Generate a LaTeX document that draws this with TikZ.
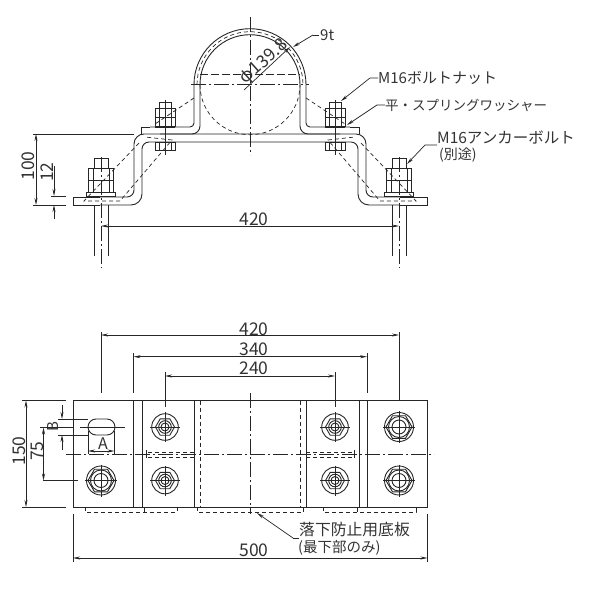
\documentclass[tikz,border=0pt]{standalone}
\usepackage{fontspec}
\setmainfont{Noto Sans CJK JP}
\usetikzlibrary{arrows.meta}
\tikzset{
  part/.style={line width=0.9pt,draw=black!85},
  thin line/.style={line width=0.7pt,draw=black!85},
  hidden/.style={line width=0.7pt,draw=black!85,dash pattern=on 4pt off 3pt},
  centre/.style={line width=0.7pt,draw=black!85,dash pattern=on 15pt off 3pt on 2pt off 3pt},
  dimline/.style={line width=0.7pt,draw=black!85,{Stealth[length=7pt,width=3pt]}-{Stealth[length=7pt,width=3pt]}},
  leader/.style={line width=0.7pt,draw=black!85,-{Stealth[length=7pt,width=3pt]}},
  num/.style={font=\fontsize{17.5}{18}\selectfont,text=black!80,inner sep=0pt},
  jp/.style={font=\fontsize{15}{16}\selectfont,text=black!80,inner sep=0pt,anchor=west},
  anchorbolt/.pic={
    \draw[part] (-12.5,-4) rectangle (12.5,-16);
    \draw[part] (-12.5,-16) rectangle (12.5,-28);
    \draw[part] (-7,-28) rectangle (7,-38);
    \draw[thin line] (-8,-4) -- (-8,-28) (8,-4) -- (8,-28);
    \draw[part] (-14.5,0) rectangle (14.5,-4);
    \draw[part] (-7,9) -- (-7,60) (7,9) -- (7,60);
  },
  clampbolt/.pic={
    \draw[part] (-10,-1) rectangle (10,-10);
    \draw[part] (-10,-10) rectangle (10,-19);
    \draw[part] (-6,-19) rectangle (6,-25);
    \draw[thin line] (-6,-1) -- (-6,-19) (6,-1) -- (6,-19);
    \draw[line width=1.6pt,draw=black!85] (-10,0) -- (10,0);
    \draw[part] (-10,15) rectangle (10,23);
    \draw[thin line] (-6,15) -- (-6,23) (6,15) -- (6,23);
  },
  bigbolt/.pic={
    \draw[thin line] (-16,0) -- (16,0) (0,-16) -- (0,16);
    \draw[part] (0,0) circle (14.5);
    \draw[part] (13,0) -- (6.5,11.3) -- (-6.5,11.3) -- (-13,0) -- (-6.5,-11.3) -- (6.5,-11.3) -- cycle;
    \draw[part] (0,0) circle (10.5);
    \draw[part] (0,0) circle (7);
  },
  smallbolt/.pic={
    \draw[thin line] (-15,0) -- (15,0) (0,-15) -- (0,15);
    \draw[part] (0,0) circle (13.3);
    \draw[part] (9.5,0) -- (4.8,8.2) -- (-4.8,8.2) -- (-9.5,0) -- (-4.8,-8.2) -- (4.8,-8.2) -- cycle;
    \draw[part] (0,0) circle (6.3);
    \draw[part] (0,0) circle (4);
  }
}
\begin{document}
\begin{tikzpicture}[x=1pt,y=-1pt]
\useasboundingbox (0,0) rectangle (604,588);
% ---------- elevation: saddle
\draw[part] (194,84.7) arc[start angle=180,end angle=0,radius=56pt];
\draw[part] (200,84.7) arc[start angle=180,end angle=0,radius=50pt];
\draw[hidden] (197,84.7) arc[start angle=180,end angle=0,radius=53pt];
\draw[hidden] (200,84.7) arc[start angle=180,end angle=360,radius=50pt];
\draw[part] (141,134) -- (141,127) -- (150,127);
\draw[part,rounded corners=4pt] (150,127) -- (194,127) -- (194,84.7);
\draw[part,rounded corners=8pt] (160,134) -- (200,134) -- (200,84.7);
\draw[part] (359,134) -- (359,127) -- (350,127);
\draw[part,rounded corners=4pt] (350,127) -- (306,127) -- (306,84.7);
\draw[part,rounded corners=8pt] (340,134) -- (300,134) -- (300,84.7);
% ---------- elevation: lower strap
\draw[part,rounded corners=10pt] (250,134) -- (134,134) -- (134,165);
\draw[part,rounded corners=7pt] (134,165) -- (134,197) -- (100,197);
\draw[part,rounded corners=7pt] (250,142) -- (142,142) -- (142,170);
\draw[part,rounded corners=11pt] (142,170) -- (142,205) -- (100,205);
\draw[part] (100,197) -- (73,197) -- (73,205) -- (100,205);
\draw[part,rounded corners=10pt] (250,134) -- (366,134) -- (366,165);
\draw[part,rounded corners=7pt] (366,165) -- (366,197) -- (400,197);
\draw[part,rounded corners=7pt] (250,142) -- (358,142) -- (358,170);
\draw[part,rounded corners=11pt] (358,170) -- (358,205) -- (400,205);
\draw[part] (400,197) -- (427,197) -- (427,205) -- (400,205);
% hidden ribs
\draw[hidden] (194,98) -- (155,124) (139,143) -- (84,201) -- (120,201) -- (172,140) -- (145,137);
\draw[hidden] (306,98) -- (345,124) (361,143) -- (416,201) -- (380,201) -- (328,140) -- (355,137);
% bolts
\path (101,196) pic {anchorbolt};
\path (399,196) pic {anchorbolt};
\path (165,127) pic {clampbolt};
\path (335,127) pic {clampbolt};
% centre lines
\draw[centre] (250,17) -- (250,155);
\draw[centre] (191,84.7) -- (309,84.7);
\draw[hidden,dash pattern=on 8pt off 3pt] (200,74) -- (300,74);
\draw[centre] (101,157) -- (101,268);
\draw[centre] (399,157) -- (399,268);
\draw[thin line] (165,100) -- (165,155) (335,100) -- (335,155);
% ---------- elevation: dimensions
\draw[thin line] (33,134) -- (134,134) (33,205) -- (66,205);
\draw[dimline] (36,134) -- (36,205);
\node[num,rotate=90] (d100) at (28,166) {100};
\draw[thin line] (51,196) -- (66,196) (51,205) -- (66,205);
\draw[leader] (54,166) -- (54,196);
\draw[leader] (54,219) -- (54,205);
\node[num,rotate=90] (d12) at (47,172) {12};
\draw[dimline] (101,226) -- (399,226);
\node[num] (d420a) at (254,219) {420};
\node[num,rotate=42] (dphi) at (264,62) {φ139.8};
\draw[leader] (244,90) -- (290,47);
\coordinate (lt) at (313,35);
\draw[thin line] (319,35) -- (lt);
\draw[leader] (lt) -- (293,47);
\node[num,anchor=west,font=\fontsize{15}{16}\selectfont] (t9) at (320,35) {9t};
\node[jp] (tbolt) at (378,78) {M16ボルトナット};
\draw[leader] (tbolt.west) -- (370,78) -- (341,101);
\node[jp,font=\fontsize{13.5}{14}\selectfont] (twash) at (385,105) {平・スプリングワッシャー};
\draw[leader] (twash.west) -- (377,105) -- (347,125);
\node[jp,font=\fontsize{15.5}{16}\selectfont] (tanch) at (437,137) {M16アンカーボルト};
\node[jp,font=\fontsize{14}{15}\selectfont] (tbe) at (439,155) {(別途)};
\draw[leader] (437,145) -- (425,145) -- (407,164);
% ---------- plan
\draw[part] (73,400.5) rectangle (427.5,507);
\draw[part] (133.5,400.5) -- (133.5,507) (142,400.5) -- (142,507) (194.5,400.5) -- (194.5,507);
\draw[part] (306,400.5) -- (306,507) (359,400.5) -- (359,507) (367,400.5) -- (367,507);
\draw[hidden,line width=0.9pt] (200.5,400.5) -- (200.5,507) (300,400.5) -- (300,507);
\draw[centre] (250,393) -- (250,514);
\draw[centre] (66,454) -- (434,454);
\draw[hidden] (148,452) -- (194,452) (148,457) -- (194,457) (306,452) -- (352,452) (306,457) -- (352,457);
\draw[thin line] (146,450) -- (146,458) (354,450) -- (354,458);
\path (101,480.5) pic {bigbolt};
\path (399,427) pic {bigbolt};
\path (399,480.5) pic {bigbolt};
\path (165,427) pic {smallbolt};
\path (165,480.5) pic {smallbolt};
\path (335,427) pic {smallbolt};
\path (335,480.5) pic {smallbolt};
% slot
\draw[part] (96,419) -- (107,419) arc[start angle=90,end angle=-90,radius=8pt] -- (96,435) arc[start angle=270,end angle=90,radius=8pt] -- cycle;
\draw[thin line] (80,427) -- (125,427);
\draw[thin line] (88,431) -- (88,454) (114.5,431) -- (114.5,454);
\draw[dimline] (88,451) -- (114.5,451);
\node[num,font=\fontsize{16}{17}\selectfont] (dA) at (103,444) {A};
\draw[thin line] (58,419) -- (88,419) (58,435) -- (88,435);
\draw[leader] (62,405) -- (62,419);
\draw[leader] (62,450) -- (62,435);
\node[num,rotate=90,font=\fontsize{15}{16}\selectfont] (dB) at (53,427) {B};
\draw[thin line] (40,427.5) -- (73,427.5) (43,480.5) -- (78,480.5);
\draw[dimline] (43.5,427.5) -- (43.5,480.5);
\node[num,rotate=90] (d75) at (37,451) {75};
\draw[thin line] (22,400.5) -- (66,400.5) (22,507) -- (66,507);
\draw[dimline] (26,400.5) -- (26,507);
\node[num,rotate=90] (d150) at (19,451) {150};
% lower hidden plate
\draw[hidden] (85,507) -- (85,512) -- (177,512) -- (177,507);
\draw[hidden] (197,507) -- (197,512) -- (303.5,512) -- (303.5,507);
\draw[hidden] (323,507) -- (323,512) -- (416,512) -- (416,507);
\draw[thin line] (144,507) -- (144,512) (357,507) -- (357,512);
% top dimensions
\draw[thin line] (101,332) -- (101,393) (399,332) -- (399,401);
\draw[dimline] (101,335) -- (399,335);
\node[num] (d420b) at (254,329) {420};
\draw[thin line] (133.5,353) -- (133.5,393) (367,353) -- (367,393);
\draw[dimline] (133.5,356.7) -- (367,356.7);
\node[num] (d340) at (254,349) {340};
\draw[thin line] (165,372) -- (165,407) (335,372) -- (335,407);
\draw[dimline] (165,376) -- (335,376);
\node[num] (d240) at (254,368) {240};
\draw[thin line] (73,514) -- (73,562) (427.5,514) -- (427.5,562);
\draw[dimline] (73,558) -- (427.5,558);
\node[num] (d500) at (254,550) {500};
% note
\node[jp,font=\fontsize{15.8}{17}\selectfont] (tplate) at (299,530) {落下防止用底板};
\node[jp,font=\fontsize{14.5}{16}\selectfont] (tmost) at (298,548) {(最下部のみ)};
\coordinate (lp) at (293,538);
\draw[thin line] (299,538) -- (lp);
\draw[leader] (lp) -- (257,513);
\end{tikzpicture}
\end{document}
